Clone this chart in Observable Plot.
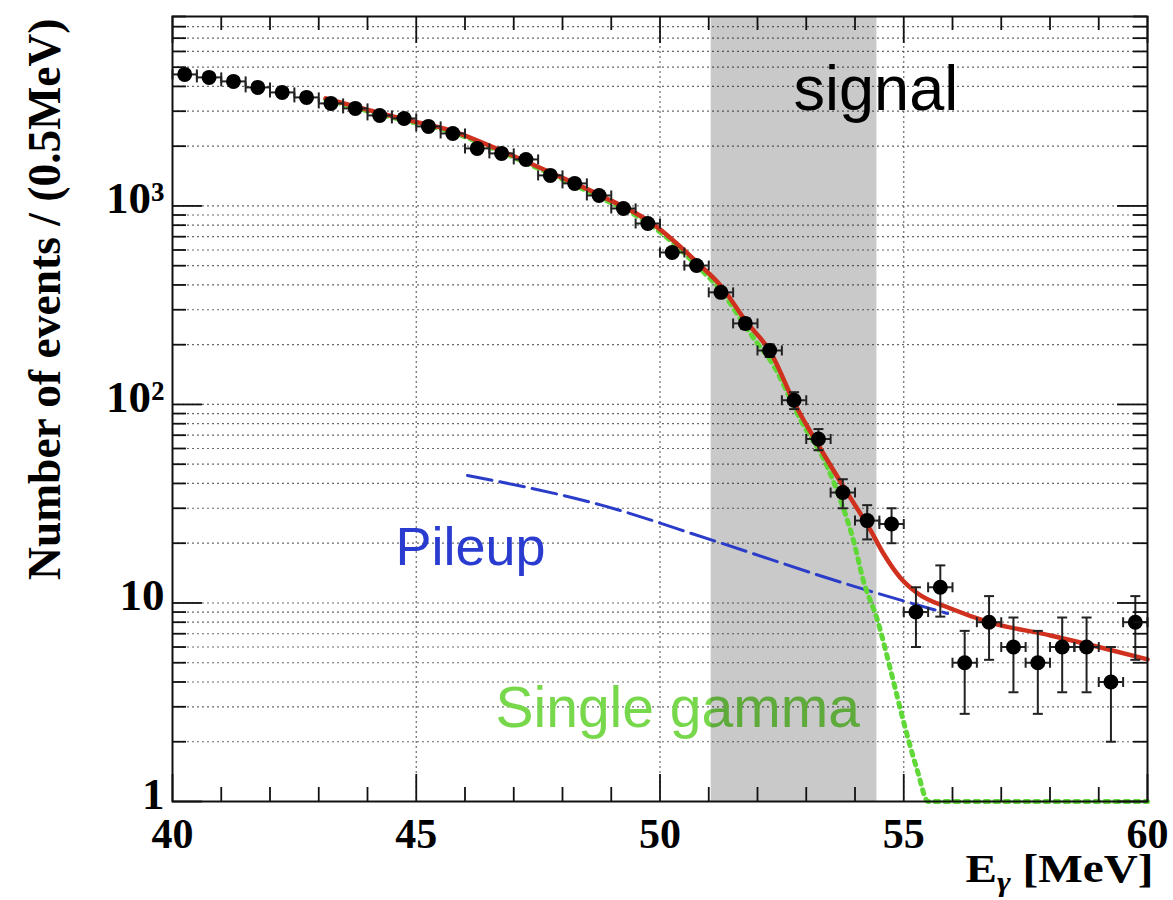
<!DOCTYPE html>
<html><head><meta charset="utf-8">
<script src="https://cdn.jsdelivr.net/npm/d3@7"></script>
<script src="https://cdn.jsdelivr.net/npm/@observablehq/plot@0.6"></script>
<style>body{margin:0;background:#fff;}</style>
</head><body><div id="chart"></div>
<script>
// ---- data ----
const binCenters = [40.25,40.75,41.25,41.75,42.25,42.75,43.25,43.75,44.25,44.75,
  45.25,45.75,46.25,46.75,47.25,47.75,48.25,48.75,49.25,49.75,
  50.25,50.75,51.25,51.75,52.25,52.75,53.25,53.75,54.25,54.75,
  55.25,55.75,56.25,56.75,57.25,57.75,58.25,58.75,59.25,59.75];
const counts = [4597,4441,4239,3954,3731,3521,3284,3099,2857,2759,
  2515,2318,1949,1839,1715,1425,1299,1129,971,816,
  583,501,367,256,187,105,67,36,26,25,
  9,12,5,8,6,5,6,6,4,8];

const fitE     = [43.14,44.68,45.70,46.73,47.75,48.78,49.81,50.83,51.24,51.75,52.27,52.78,53.29,53.81,54.32,54.58,54.93,55.28,55.96,56.78,58.01,59.04,60.0];
const fitTotal = [3481,2759,2401,1904,1475,1129,826,501,398,265,183,99,60,36.9,23.2,17.8,13.4,11.2,9.38,7.97,6.86,5.97,5.2];

const singleE  = [43.14,44.68,45.70,46.73,47.75,48.78,49.81,50.83,51.24,51.75,52.0,52.27,52.88,53.44,53.7,53.97,54.17,54.46,54.73,54.99,55.28,55.5,60.0];
const singleN  = [3440,2725,2370,1875,1450,1103,803,481,378,248,203,166,84,48,33,20.6,13,8.2,4.6,2.56,1.43,1,1];

const pileupE  = [46.05,48.78,51.1,53.9,55.9];
const pileupN  = [43.9,31.2,20.6,12.3,8.85];

const signalRegion = [51.05, 54.45];

const xLabelTicks = [40,45,50,55,60];
const xMinorTicks = [41,42,43,44,46,47,48,49,51,52,53,54,56,57,58,59];
const yDecades = [1,10,100,1000];
const yDecadeLabels = ["1","10","10²","10³"];
const yMinorTicks = [1,10,100,1000].flatMap(d => [2,3,4,5,6,7,8,9].map(m => m*d));
const xGrid = [45,50,55];

const yTitle = "Number of events / (0.5MeV)";
const xTitle = "Eγ [MeV]";

// ---- tables ----
const pts = binCenters.map((e,i) => ({e, n: counts[i]}));
const fit = fitE.map((e,i) => ({e, n: fitTotal[i]}));
const single = singleE.map((e,i) => ({e, n: singleN[i]}));
const pile = pileupE.map((e,i) => ({e, n: pileupN[i]}));

const FH = 785, FW = 975; // frame size in px
const vcap = {draw(ctx, size){ const r = Math.sqrt(size/Math.PI); ctx.moveTo(0,-r); ctx.lineTo(0,r);} };
const hcap = {draw(ctx, size){ const r = Math.sqrt(size/Math.PI); ctx.moveTo(-r,0); ctx.lineTo(r,0);} };
const serif = "Liberation Serif, Times New Roman, serif";
const sans = "Liberation Sans, Arial, Helvetica, sans-serif";

const chart = Plot.plot({
  width: 1173, height: 900,
  marginLeft: 172, marginRight: 26, marginTop: 16, marginBottom: 99,
  style: {background: "#fff", fontFamily: serif, color: "#000"},
  x: {domain: [40, 60]},
  y: {type: "log", domain: [1, 9000]},
  marks: [
    // grid
    Plot.ruleY(yMinorTicks.concat(yDecades), {stroke: "#444", strokeOpacity: 0.8, strokeDasharray: "2,3", strokeWidth: 1.2}),
    Plot.ruleX(xGrid, {stroke: "#444", strokeOpacity: 0.8, strokeDasharray: "2,3", strokeWidth: 1.2}),
    // label under the band
    Plot.text(["Single gamma"], {x: 46.626, y: 2.36, text: d => d, textAnchor: "start", lineAnchor: "bottom", fontSize: 57, fontFamily: sans, fill: "#78d84c"}),
    // signal band
    Plot.rect([signalRegion], {x1: d => d[0], x2: d => d[1], fill: "#000", fillOpacity: 0.21}),
    // curves
    Plot.line(pile, {x: "e", y: "n", stroke: "#2a3cc8", strokeWidth: 3, strokeDasharray: "25,8", curve: "monotone-x"}),
    Plot.line(single, {x: "e", y: "n", stroke: "#5fd838", strokeWidth: 5, strokeDasharray: "4,6", curve: "monotone-x"}),
    Plot.line(fit, {x: "e", y: "n", stroke: "#d0301e", strokeWidth: 4.5, curve: "monotone-x"}),
    // error bars
    Plot.ruleX(pts, {x: "e", y1: d => d.n - Math.sqrt(d.n), y2: d => d.n + Math.sqrt(d.n), stroke: "#222", strokeWidth: 2}),
    Plot.ruleY(pts, {y: "n", x1: d => d.e - 0.25, x2: d => d.e + 0.25, stroke: "#222", strokeWidth: 2}),
    Plot.dot(pts, {x: d => d.e - 0.25, y: "n", symbol: vcap, r: 5, stroke: "#222", strokeWidth: 2, fill: "none"}),
    Plot.dot(pts, {x: d => d.e + 0.25, y: "n", symbol: vcap, r: 5, stroke: "#222", strokeWidth: 2, fill: "none"}),
    Plot.dot(pts, {x: "e", y: d => d.n + Math.sqrt(d.n), symbol: hcap, r: 5, stroke: "#222", strokeWidth: 2, fill: "none"}),
    Plot.dot(pts, {x: "e", y: d => d.n - Math.sqrt(d.n), symbol: hcap, r: 5, stroke: "#222", strokeWidth: 2, fill: "none"}),
    Plot.dot(pts, {x: "e", y: "n", r: 7.5, fill: "#000"}),
    // inward ticks
    Plot.ruleX(xLabelTicks, {insetTop: FH - 27, stroke: "#111", strokeWidth: 1.8}),
    Plot.ruleX(xLabelTicks, {insetBottom: FH - 27, stroke: "#111", strokeWidth: 1.8}),
    Plot.ruleX(xMinorTicks, {insetTop: FH - 14, stroke: "#111", strokeWidth: 1.8}),
    Plot.ruleX(xMinorTicks, {insetBottom: FH - 14, stroke: "#111", strokeWidth: 1.8}),
    Plot.ruleY(yDecades, {insetRight: FW - 30, stroke: "#111", strokeWidth: 1.8}),
    Plot.ruleY(yDecades, {insetLeft: FW - 30, stroke: "#111", strokeWidth: 1.8}),
    Plot.ruleY(yMinorTicks, {insetRight: FW - 14, stroke: "#111", strokeWidth: 1.8}),
    Plot.ruleY(yMinorTicks, {insetLeft: FW - 14, stroke: "#111", strokeWidth: 1.8}),
    Plot.frame({stroke: "#111", strokeWidth: 2}),
    // axes labels
    Plot.axisX(xLabelTicks, {tickSize: 0, tickPadding: 17, fontSize: 42, fontWeight: "bold", fontFamily: serif, label: null, tickFormat: d => String(d)}),
    Plot.axisY(yDecades, {tickSize: 0, tickPadding: 8, dy: -7, fontSize: 45, fontWeight: "bold", fontFamily: serif, label: null, tickFormat: d => yDecadeLabels[yDecades.indexOf(d)]}),
    Plot.text([yTitle], {frameAnchor: "top-left", dx: -127, dy: 2, rotate: -90, text: d => d, textAnchor: "end", lineAnchor: "middle", fontSize: 45.5, fontWeight: "bold", fontFamily: serif, fill: "#000"}),
    Plot.text([xTitle], {frameAnchor: "bottom-right", dx: 6, dy: 80, text: d => d, textAnchor: "end", lineAnchor: "bottom", fontSize: 40, fontWeight: "bold", fontFamily: serif, fill: "#000"}),
    // annotations
    Plot.text(["signal"], {x: 52.74, y: 3030, text: d => d, textAnchor: "start", lineAnchor: "bottom", fontSize: 63, fontFamily: sans, fill: "#000"}),
    Plot.text(["Pileup"], {x: 44.574, y: 15.45, text: d => d, textAnchor: "start", lineAnchor: "bottom", fontSize: 54, fontFamily: sans, fill: "#2a3cd0"})
  ]
});
document.getElementById("chart").append(chart);

const svg = d3.select(chart);
const xt = svg.selectAll("text").filter(function(){ return this.textContent === xTitle; });
xt.text(null);
xt.append("tspan").text("E");
xt.append("tspan").attr("font-size", 28).attr("font-style", "italic").attr("dy", 9).text("γ");
xt.append("tspan").attr("dy", -9).text(" [MeV]");
xt.attr("textLength", 188).attr("lengthAdjust", "spacingAndGlyphs");
</script>
</body></html>
